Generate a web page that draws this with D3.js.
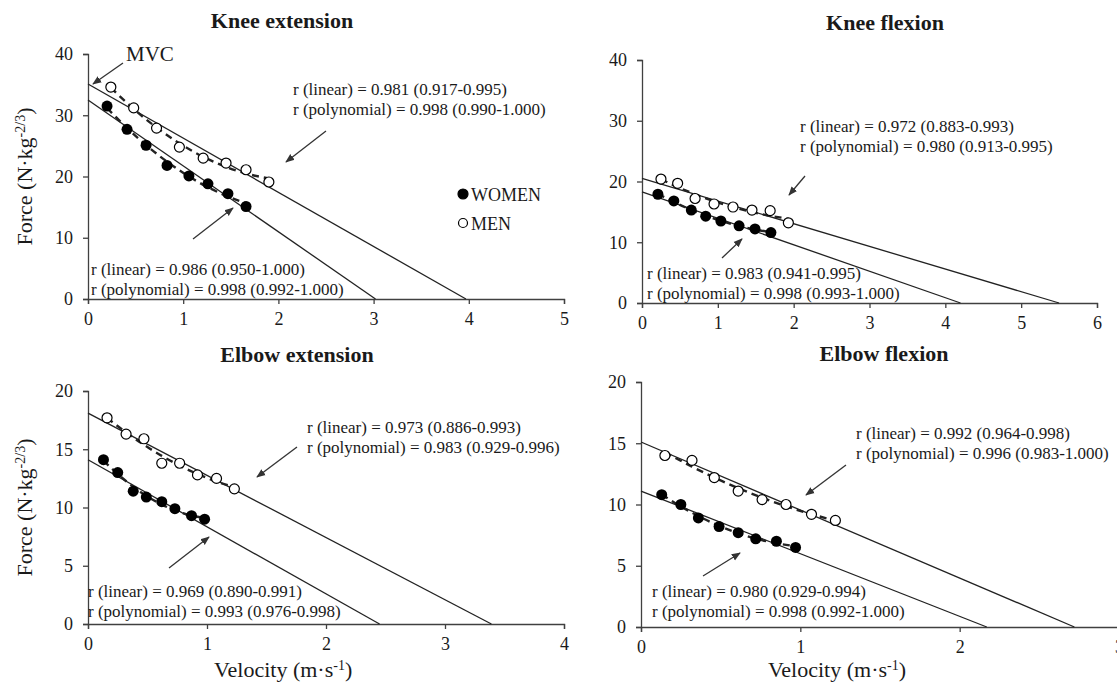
<!DOCTYPE html>
<head>
  <meta charset="utf-8">
  <script src="https://d3js.org/d3.v7.min.js"></script>
  <style>
    body { margin: 0; background: #fff; }
    svg text { font-family: "Liberation Serif", "Times New Roman", Times, "DejaVu Serif", serif; fill: #1a1a1a; }
  </style>
</head>
<body>
<script>
  // ---- values ----
  var titles = ["Knee extension", "Knee flexion", "Elbow extension", "Elbow flexion"];

  var keVelW = [0.20, 0.41, 0.61, 0.83, 1.06, 1.26, 1.47, 1.66],
      keForceW = [31.5, 27.7, 25.1, 21.8, 20.1, 18.8, 17.2, 15.1],
      keVelM = [0.24, 0.48, 0.72, 0.96, 1.21, 1.45, 1.66, 1.90],
      keForceM = [34.6, 31.2, 27.9, 24.8, 23.0, 22.2, 21.1, 19.1];
  var kfVelW = [0.21, 0.42, 0.65, 0.84, 1.04, 1.28, 1.49, 1.70],
      kfForceW = [17.9, 16.8, 15.3, 14.3, 13.5, 12.7, 12.2, 11.6],
      kfVelM = [0.25, 0.47, 0.70, 0.95, 1.20, 1.45, 1.69, 1.93],
      kfForceM = [20.4, 19.7, 17.2, 16.3, 15.8, 15.3, 15.2, 13.2];
  var eeVelW = [0.13, 0.25, 0.38, 0.49, 0.62, 0.73, 0.87, 0.98],
      eeForceW = [14.1, 13.0, 11.4, 10.9, 10.5, 9.9, 9.3, 9.0],
      eeVelM = [0.16, 0.32, 0.47, 0.62, 0.77, 0.92, 1.08, 1.23],
      eeForceM = [17.7, 16.3, 15.9, 13.8, 13.8, 12.8, 12.5, 11.6];
  var efVelW = [0.13, 0.25, 0.36, 0.49, 0.61, 0.72, 0.85, 0.97],
      efForceW = [10.8, 10.0, 8.9, 8.2, 7.7, 7.2, 7.0, 6.5],
      efVelM = [0.15, 0.32, 0.46, 0.61, 0.76, 0.91, 1.07, 1.22],
      efForceM = [14.0, 13.6, 12.2, 11.1, 10.4, 10.0, 9.2, 8.7];

  // linear fits [women, men]: force at v = 0 and velocity at F = 0
  var keF0 = [32.5, 35.1], keV0 = [3.02, 3.97];
  var kfF0 = [18.3, 20.5], kfV0 = [4.20, 5.50];
  var eeF0 = [14.1, 18.1], eeV0 = [2.45, 3.39];
  var efF0 = [11.1, 15.1], efV0 = [2.17, 2.72];

  var keTextW = ["r (linear) = 0.986 (0.950-1.000)", "r (polynomial) = 0.998 (0.992-1.000)"],
      keTextM = ["r (linear) = 0.981 (0.917-0.995)", "r (polynomial) = 0.998 (0.990-1.000)"];
  var kfTextW = ["r (linear) = 0.983 (0.941-0.995)", "r (polynomial) = 0.998 (0.993-1.000)"],
      kfTextM = ["r (linear) = 0.972 (0.883-0.993)", "r (polynomial) = 0.980 (0.913-0.995)"];
  var eeTextW = ["r (linear) = 0.969 (0.890-0.991)", "r (polynomial) = 0.993 (0.976-0.998)"],
      eeTextM = ["r (linear) = 0.973 (0.886-0.993)", "r (polynomial) = 0.983 (0.929-0.996)"];
  var efTextW = ["r (linear) = 0.980 (0.929-0.994)", "r (polynomial) = 0.998 (0.992-1.000)"],
      efTextM = ["r (linear) = 0.992 (0.964-0.998)", "r (polynomial) = 0.996 (0.983-1.000)"];

  var xTicksKE = [0, 1, 2, 3, 4, 5], xTicksKF = [0, 1, 2, 3, 4, 5, 6],
      xTicksEE = [0, 1, 2, 3, 4], xTicksEF = [0, 1, 2, 3];
  var yTicksKnee = [0, 10, 20, 30, 40], yTicksElbow = [0, 5, 10, 15, 20];
  var legendLabels = ["WOMEN", "MEN"];

  // ---- layout ----
  var panels = [
    { title: titles[0], tx: 282, ty: 28, left: 88, right: 564, top: 54, bottom: 299,
      xTicks: xTicksKE, yTicks: yTicksKnee,
      w: [keVelW, keForceW], m: [keVelM, keForceM], f0: keF0, v0: keV0,
      textW: keTextW, textM: keTextM,
      posW: [91, 275], posM: [293, 95],
      arrW: [193, 239, 233, 208], arrM: [326, 131, 286, 162], yTitle: true },
    { title: titles[1], tx: 885, ty: 30, left: 642, right: 1097, top: 60, bottom: 303,
      xTicks: xTicksKF, yTicks: yTicksKnee,
      w: [kfVelW, kfForceW], m: [kfVelM, kfForceM], f0: kfF0, v0: kfV0,
      textW: kfTextW, textM: kfTextM,
      posW: [647, 279], posM: [800, 132],
      arrW: [722, 258, 742, 239], arrM: [805, 176, 789, 195] },
    { title: titles[2], tx: 297, ty: 362, left: 88, right: 564, top: 391, bottom: 624,
      xTicks: xTicksEE, yTicks: yTicksElbow,
      w: [eeVelW, eeForceW], m: [eeVelM, eeForceM], f0: eeF0, v0: eeV0,
      textW: eeTextW, textM: eeTextM,
      posW: [88, 597], posM: [307, 433],
      arrW: [169, 568, 209, 537], arrM: [297, 447, 257, 477], yTitle: true, xTitle: true },
    { title: titles[3], tx: 884, ty: 361, left: 641, right: 1119, top: 382, bottom: 627,
      xTicks: xTicksEF, yTicks: yTicksElbow,
      w: [efVelW, efForceW], m: [efVelM, efForceM], f0: efF0, v0: efV0,
      textW: efTextW, textM: efTextM,
      posW: [652, 597], posM: [856, 439],
      arrW: [703, 576, 740, 553], arrM: [846, 465, 806, 495], xTitle: true }
  ];

  var svg = d3.select("body").append("svg")
      .attr("width", 1117)
      .attr("height", 690);

  svg.append("defs").append("marker")
      .attr("id", "arrow")
      .attr("viewBox", "0 0 10 10")
      .attr("refX", 9).attr("refY", 5)
      .attr("markerWidth", 7).attr("markerHeight", 7)
      .attr("orient", "auto")
    .append("path")
      .attr("d", "M0,1 L10,5 L0,9 z")
      .attr("fill", "#333");

  // quadratic least squares fit of the plotted points
  function quadFit(xs, ys) {
    var n = xs.length, s = [0, 0, 0, 0, 0], t = [0, 0, 0];
    for (var i = 0; i < n; i++) {
      var p = 1;
      for (var k = 0; k < 5; k++) { s[k] += p; if (k < 3) t[k] += p * ys[i]; p *= xs[i]; }
    }
    var A = [[s[0], s[1], s[2], t[0]], [s[1], s[2], s[3], t[1]], [s[2], s[3], s[4], t[2]]];
    for (var c = 0; c < 3; c++) {
      for (var r = c + 1; r < 3; r++) {
        var f = A[r][c] / A[c][c];
        for (var j = c; j < 4; j++) A[r][j] -= f * A[c][j];
      }
    }
    var b = [0, 0, 0];
    for (var r2 = 2; r2 >= 0; r2--) {
      var v = A[r2][3];
      for (var j2 = r2 + 1; j2 < 3; j2++) v -= A[r2][j2] * b[j2];
      b[r2] = v / A[r2][r2];
    }
    return function(x) { return b[0] + b[1] * x + b[2] * x * x; };
  }

  function addText(sel, x, y, lines, size) {
    var t = sel.append("text").attr("x", x).attr("y", y).style("font-size", size + "px");
    lines.forEach(function(l, i) {
      t.append("tspan").attr("x", x).attr("dy", i ? 20 : 0).text(l);
    });
  }

  function arrow(a) {
    svg.append("line")
      .attr("x1", a[0]).attr("y1", a[1]).attr("x2", a[2]).attr("y2", a[3])
      .attr("stroke", "#333").attr("stroke-width", 1.3)
      .attr("marker-end", "url(#arrow)");
  }

  panels.forEach(function(p) {
    var xMax = p.xTicks[p.xTicks.length - 1], yMax = p.yTicks[p.yTicks.length - 1];
    var x = d3.scaleLinear().domain([0, xMax]).range([p.left, p.right]);
    var y = d3.scaleLinear().domain([0, yMax]).range([p.bottom, p.top]);
    var g = svg.append("g");

    g.append("text")
      .attr("x", p.tx).attr("y", p.ty)
      .attr("text-anchor", "middle")
      .style("font-size", "22px").style("font-weight", "bold")
      .text(p.title);

    var ya = g.append("g")
      .attr("transform", "translate(" + p.left + ",0)")
      .call(d3.axisLeft(y).tickValues(p.yTicks).tickFormat(d3.format("d"))
        .tickSize(5).tickPadding(10));
    var xa = g.append("g")
      .attr("transform", "translate(0," + p.bottom + ")")
      .call(d3.axisBottom(x).tickValues(p.xTicks).tickFormat(d3.format("d"))
        .tickSize(5).tickPadding(8));
    [ya, xa].forEach(function(a) {
      a.attr("font-family", null).attr("font-size", null);
      a.selectAll("path, line").attr("stroke", "#404040").attr("stroke-width", 1.3);
      a.selectAll("text").style("font-size", "18px").attr("fill", "#1a1a1a");
    });

    // linear fits
    [0, 1].forEach(function(i) {
      g.append("line")
        .attr("x1", x(0)).attr("y1", y(p.f0[i]))
        .attr("x2", x(p.v0[i])).attr("y2", y(0))
        .attr("stroke", "#222").attr("stroke-width", 1.3);
    });

    // polynomial fits (dashed)
    [p.w, p.m].forEach(function(s) {
      var fit = quadFit(s[0], s[1]);
      g.append("path")
        .datum(s[0])
        .attr("fill", "none")
        .attr("stroke", "#222").attr("stroke-width", 2.4)
        .attr("stroke-dasharray", "7,5")
        .attr("d", d3.line().curve(d3.curveMonotoneX)
          .x(function(v) { return x(v); })
          .y(function(v) { return y(fit(v)); }));
    });

    // points
    g.append("g").selectAll("circle")
      .data(d3.range(p.w[0].length))
      .join("circle")
        .attr("cx", function(i) { return x(p.w[0][i]); })
        .attr("cy", function(i) { return y(p.w[1][i]); })
        .attr("r", 5.5)
        .attr("fill", "#000");
    g.append("g").selectAll("circle")
      .data(d3.range(p.m[0].length))
      .join("circle")
        .attr("cx", function(i) { return x(p.m[0][i]); })
        .attr("cy", function(i) { return y(p.m[1][i]); })
        .attr("r", 5)
        .attr("fill", "#fff")
        .attr("stroke", "#000").attr("stroke-width", 1.2);

    addText(g, p.posM[0], p.posM[1], p.textM, 17);
    addText(g, p.posW[0], p.posW[1], p.textW, 17);
    arrow(p.arrM);
    arrow(p.arrW);

    if (p.yTitle) {
      var yt = g.append("text")
        .attr("transform", "translate(32," + (p.top + p.bottom) / 2 + ")rotate(-90)")
        .attr("text-anchor", "middle")
        .style("font-size", "22px");
      yt.append("tspan").text("Force (N\u00b7kg");
      yt.append("tspan").attr("baseline-shift", "super").style("font-size", "14px").text("-2/3");
      yt.append("tspan").text(")");
    }
    if (p.xTitle) {
      var xt = g.append("text")
        .attr("x", p.left + (p.right - p.left) * 0.41).attr("y", 677)
        .attr("text-anchor", "middle")
        .style("font-size", "22px");
      xt.append("tspan").text("Velocity (m\u00b7s");
      xt.append("tspan").attr("baseline-shift", "super").style("font-size", "14px").text("-1");
      xt.append("tspan").text(")");
    }
  });

  // MVC label on knee extension
  svg.append("text")
    .attr("x", 126).attr("y", 61)
    .style("font-size", "21px")
    .text("MVC");
  arrow([123, 63, 93, 84]);

  // legend
  var leg = svg.append("g").selectAll("g")
    .data(legendLabels)
    .join("g")
      .attr("transform", function(d, i) { return "translate(463," + (194 + i * 29) + ")"; });
  leg.append("circle")
    .attr("r", function(d, i) { return i ? 4.5 : 5; })
    .attr("fill", function(d, i) { return i ? "#fff" : "#000"; })
    .attr("stroke", "#000").attr("stroke-width", 1.2);
  leg.append("text")
    .attr("x", 8).attr("y", 6.5)
    .style("font-size", "18px")
    .text(function(d) { return d; });
</script>
</body>
